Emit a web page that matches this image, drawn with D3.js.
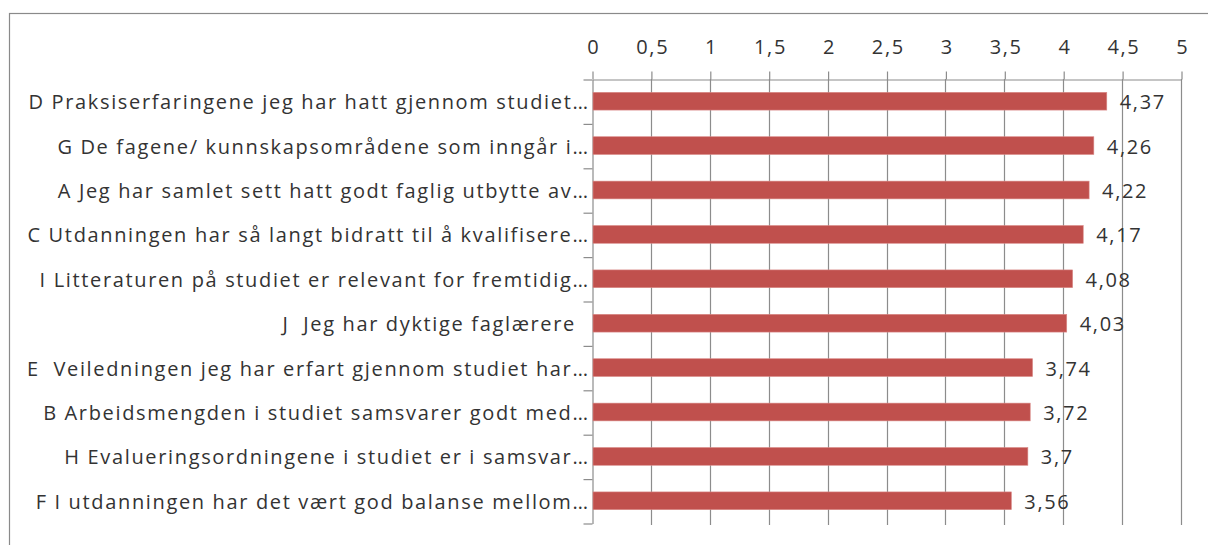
<!DOCTYPE html>
<html>
<head>
<meta charset="utf-8">
<script src="https://cdn.jsdelivr.net/npm/d3@7"></script>
<style>
  html, body { margin: 0; padding: 0; background: #fff; }
  svg { display: block; }
  text { font-family: "Open Sans", "Noto Sans", sans-serif; fill: #333333; }
</style>
</head>
<body>
<svg id="chart" width="1208" height="545"></svg>
<script>
const categories = [
  "D Praksiserfaringene jeg har hatt gjennom studiet…",
  "G De fagene/ kunnskapsområdene som inngår i…",
  "A Jeg har samlet sett hatt godt faglig utbytte av…",
  "C Utdanningen har så langt bidratt til å kvalifisere…",
  "I Litteraturen på studiet er relevant for fremtidig…",
  "J  Jeg har dyktige faglærere  ",
  "E  Veiledningen jeg har erfart gjennom studiet har…",
  "B Arbeidsmengden i studiet samsvarer godt med…",
  "H Evalueringsordningene i studiet er i samsvar…",
  "F I utdanningen har det vært god balanse mellom…"
];
const values = [4.37, 4.26, 4.22, 4.17, 4.08, 4.03, 3.74, 3.72, 3.7, 3.56];
const tickValues = [0, 0.5, 1, 1.5, 2, 2.5, 3, 3.5, 4, 4.5, 5];

const svg = d3.select("#chart");
const W = 1208, H = 545;
const FS = 20, LS = 1.65;

// chart border
svg.append("rect")
  .attr("x", 9.5).attr("y", 13.5)
  .attr("width", W + 10).attr("height", H + 10)
  .attr("fill", "#fff").attr("stroke", "#8a8a8a").attr("stroke-width", 1.2);

const pLeft = 592, pRight = 1181, pTop = 79, pBottom = 523;
const fmt = v => String(v).replace(".", ",");

const x = d3.scaleLinear().domain([0, 5]).range([pLeft, pRight]);
const y = d3.scaleBand().domain(categories).range([pTop, pBottom]).paddingInner(0.6).paddingOuter(0.3);
const yIdx = d3.scaleLinear().domain([0, categories.length]).range([pTop, pBottom]);

// gridlines
svg.append("g")
  .selectAll("line")
  .data(tickValues.slice(1))
  .join("line")
  .attr("x1", d => Math.round(x(d)) + 0.5).attr("x2", d => Math.round(x(d)) + 0.5)
  .attr("y1", pTop).attr("y2", pBottom + 2)
  .attr("stroke", "#8c8c8c").attr("stroke-width", 1.2);

// top axis
const xAxis = svg.append("g")
  .attr("transform", `translate(0.5,${pTop + 0.5})`)
  .call(d3.axisTop(x).tickValues(tickValues).tickSize(8).tickSizeOuter(0).tickPadding(18).tickFormat(fmt));
xAxis.select(".domain").attr("stroke", "#8c8c8c").attr("stroke-width", 1.2);
xAxis.selectAll(".tick line").attr("stroke", "#8c8c8c").attr("stroke-width", 1.2);
xAxis.selectAll(".tick text").attr("font-size", FS).attr("fill", "#333333")
  .attr("letter-spacing", LS)
  .attr("dx", LS / 2)
  .style("font-family", '"Open Sans", sans-serif');

// left axis (boundary ticks)
const yAxis = svg.append("g")
  .attr("transform", `translate(${pLeft + 0.5},0.5)`)
  .call(d3.axisLeft(yIdx).tickValues(d3.range(categories.length + 1)).tickSize(9).tickSizeOuter(0).tickFormat(""));
yAxis.select(".domain").attr("stroke", "#8c8c8c").attr("stroke-width", 1.2);
yAxis.selectAll(".tick line").attr("stroke", "#8c8c8c").attr("stroke-width", 1.2);

// category labels
svg.append("g")
  .selectAll("text")
  .data(categories)
  .join("text")
  .attr("x", 588 + LS)
  .attr("y", d => y(d) + y.bandwidth() / 2 + 1)
  .attr("dy", "0.35em")
  .attr("text-anchor", "end")
  .attr("font-size", FS)
  .attr("letter-spacing", LS)
  .style("white-space", "pre")
  .attr("xml:space", "preserve")
  .text(d => d);

// bars
svg.append("g")
  .selectAll("rect")
  .data(values)
  .join("rect")
  .attr("x", x(0) + 1)
  .attr("y", (d, i) => y(categories[i]))
  .attr("width", d => x(d) - x(0) - 1)
  .attr("height", y.bandwidth())
  .attr("fill", "#c0504d")
  .attr("stroke", "#d98a88").attr("stroke-width", 0.6);

// value labels
svg.append("g")
  .selectAll("text")
  .data(values)
  .join("text")
  .attr("x", d => x(d) + 13)
  .attr("y", (d, i) => y(categories[i]) + y.bandwidth() / 2 + 1)
  .attr("dy", "0.35em")
  .attr("font-size", FS)
  .attr("letter-spacing", LS)
  .text(d => fmt(d));
</script>
</body>
</html>
